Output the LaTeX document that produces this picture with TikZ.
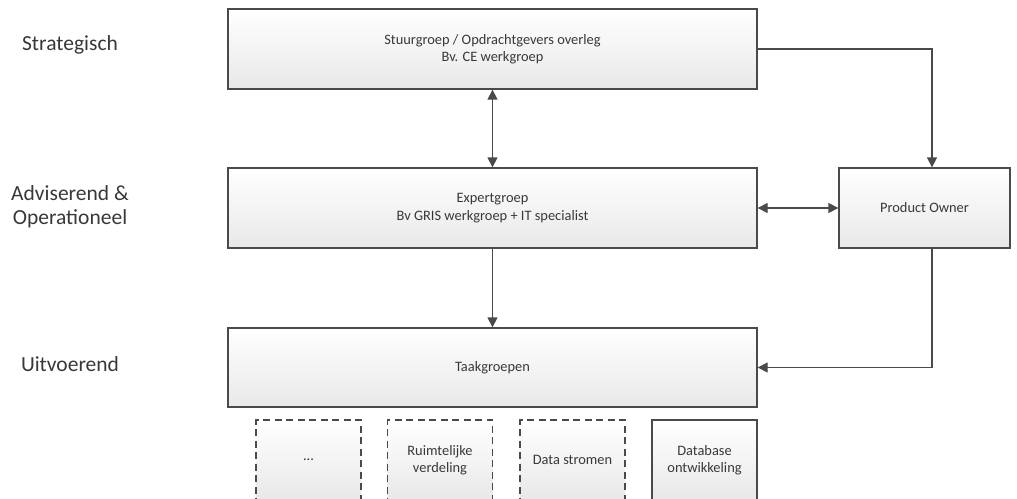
\documentclass[tikz,border=0pt]{standalone}
\usepackage{fontspec}
\setmainfont{Carlito}
\usetikzlibrary{arrows.meta,positioning}

\definecolor{lijn}{HTML}{4A4A4A}
\definecolor{tekst}{HTML}{383838}

\tikzset{
  blok/.style={draw=lijn, line width=1.3pt, top color=white, bottom color=black!9,
    text=tekst, font=\fontsize{14.4}{17.5}\selectfont, align=center, inner sep=0pt},
  taak/.style={blok, minimum width=105pt, minimum height=80pt},
  losjes/.style={taak, dash pattern=on 7pt off 4.5pt},
  niveau/.style={text=tekst, font=\fontsize{21.5}{24}\selectfont, align=center},
  pijl/.style={draw=lijn, line width=1.3pt, -{Triangle[length=10pt,width=10pt]}},
  dubbel/.style={pijl, {Triangle[length=10pt,width=10pt]}-{Triangle[length=10pt,width=10pt]}},
}

\begin{document}
\begin{tikzpicture}[x=1pt, y=-1pt]
  \useasboundingbox (0,0) rectangle (1017,498);
  \clip (0,0) rectangle (1017,498);

  % niveaus links
  \node[niveau] (strat) at (70,45) {Strategisch};
  \node[niveau] (advies) at (70,207) {Adviserend \&\\Operationeel};
  \node[niveau] (uitv) at (70,364) {Uitvoerend};

  % groepen
  \node[blok, minimum width=529pt, minimum height=80pt] (stuur) at (492.5,49)
    {Stuurgroep / Opdrachtgevers overleg\\Bv. CE werkgroep};
  \node[blok, minimum width=529pt, minimum height=80pt] (expert) at (492.5,208)
    {Expertgroep\\Bv GRIS werkgroep + IT specialist};
  \node[blok, minimum width=171pt, minimum height=80pt] (po) at (924.5,208) {Product Owner};
  \node[blok, minimum width=529pt, minimum height=79pt] (taakgr) at (492.5,367.5) {Taakgroepen};

  % taakgroepen onder
  \node[losjes] (overig) at (308.5,460) {...};
  \node[losjes] (ruimte) at (440,460) {Ruimtelijke\\verdeling};
  \node[losjes] (data) at (572.5,460) {Data stromen};
  \node[taak] (dbase) at (704.5,460) {Database\\ontwikkeling};

  % verbindingen
  \draw[dubbel] (expert.north) -- (stuur.south);
  \draw[pijl] (stuur.east) -| ([xshift=7.5pt]po.north);
  \draw[dubbel] (expert.east) -- (po.west);
  \draw[pijl] (expert.south) -- (taakgr.north);
  \draw[pijl] ([xshift=7.5pt]po.south) |- (taakgr.east);
\end{tikzpicture}
\end{document}
